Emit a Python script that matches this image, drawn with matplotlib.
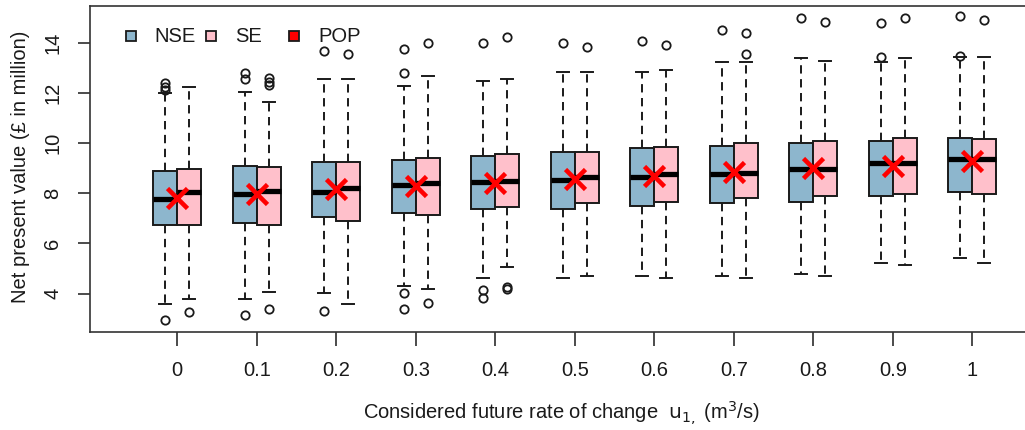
import matplotlib
matplotlib.use("Agg")
import matplotlib.pyplot as plt

plt.rcParams['font.family'] = ['Liberation Sans Narrow', 'Liberation Sans', 'DejaVu Sans']
plt.rcParams['mathtext.fontset'] = 'custom'
plt.rcParams['mathtext.rm'] = 'Liberation Sans Narrow'
plt.rcParams['mathtext.it'] = 'Liberation Sans Narrow:italic'
plt.rcParams['lines.scale_dashes'] = False

# rate of change u1 (m3/s)
rates = ["0", "0.1", "0.2", "0.3", "0.4", "0.5", "0.6", "0.7", "0.8", "0.9", "1"]

# NSE boxplot summaries (NPV, million GBP)
nse_lo = [3.58, 3.78, 4.02, 4.32, 4.64, 4.64, 4.71, 4.71, 4.78, 5.24, 5.41]
nse_q1 = [6.74, 6.83, 7.04, 7.20, 7.36, 7.36, 7.51, 7.60, 7.67, 7.89, 8.04]
nse_med = [7.76, 7.97, 8.06, 8.32, 8.45, 8.53, 8.66, 8.76, 8.97, 9.20, 9.35]
nse_q3 = [8.89, 9.10, 9.26, 9.33, 9.49, 9.63, 9.79, 9.88, 10.02, 10.10, 10.19]
nse_hi = [11.98, 12.02, 12.54, 12.29, 12.47, 12.84, 12.84, 13.22, 13.38, 13.22, 13.44]
nse_out = [[12.1, 12.25, 12.4, 2.95], [12.55, 12.8, 3.14], [13.68, 3.32],
           [12.78, 13.75, 4.02, 3.39], [13.98, 4.15, 3.84], [13.98], [14.06],
           [14.51], [14.97], [13.42, 14.78], [13.47, 15.06]]

# SE boxplot summaries
se_lo = [3.79, 4.08, 3.58, 4.18, 5.08, 4.71, 4.64, 4.64, 4.71, 5.14, 5.24]
se_q1 = [6.74, 6.74, 6.91, 7.14, 7.44, 7.60, 7.67, 7.80, 7.89, 7.96, 7.97]
se_med = [8.04, 8.10, 8.20, 8.42, 8.50, 8.64, 8.76, 8.82, 8.97, 9.20, 9.35]
se_q3 = [8.96, 9.04, 9.26, 9.42, 9.57, 9.63, 9.86, 10.02, 10.10, 10.19, 10.15]
se_hi = [12.22, 11.65, 12.54, 12.67, 12.54, 12.84, 12.91, 13.22, 13.28, 13.38, 13.44]
se_out = [[3.26], [12.3, 12.45, 12.6, 3.40], [13.55], [13.98, 3.64],
          [14.22, 4.25, 4.18], [13.84], [13.91], [13.55, 14.37], [14.81],
          [14.97], [14.90]]

# POP
pop = [7.82, 7.96, 8.16, 8.29, 8.42, 8.57, 8.70, 8.84, 9.00, 9.10, 9.29]


def stats(lo, q1, med, q3, hi, out):
    return [dict(whislo=a, q1=b, med=c, q3=d, whishi=e, fliers=f)
            for a, b, c, d, e, f in zip(lo, q1, med, q3, hi, out)]


fig = plt.figure(figsize=(10.25, 4.3), dpi=100)
ax = fig.add_axes([89.5 / 1025, 98.3 / 430, 940.5 / 1025, 325.7 / 430])

x = list(range(len(rates)))
w = 0.3
common = dict(widths=w, capwidths=w * 0.5, patch_artist=True, manage_ticks=False,
              boxprops=dict(edgecolor='#1a1a1a', linewidth=1.4),
              medianprops=dict(color='black', linewidth=3.8, solid_capstyle='butt'),
              whiskerprops=dict(color='#1a1a1a', linewidth=1.4, linestyle=(0, (6, 4))),
              capprops=dict(color='#1a1a1a', linewidth=1.4),
              flierprops=dict(marker='o', markersize=6, markerfacecolor='none',
                              markeredgecolor='#1a1a1a', markeredgewidth=1.3))

b1 = ax.bxp(stats(nse_lo, nse_q1, nse_med, nse_q3, nse_hi, nse_out),
            positions=[i - w / 2 for i in x], **common)
b2 = ax.bxp(stats(se_lo, se_q1, se_med, se_q3, se_hi, se_out),
            positions=[i + w / 2 for i in x], **common)
for p in b1['boxes']:
    p.set_facecolor('#8DB6CD')
for p in b2['boxes']:
    p.set_facecolor('#FFC0CB')

ax.plot(x, pop, linestyle='none', marker='x', color='red', markersize=14,
        markeredgewidth=3.3, zorder=5)

ax.set_xlim(-1.104, 10.726)
ax.set_ylim(2.486, 15.46)
ax.set_xticks(x)
ax.set_xticklabels(rates)
ax.set_yticks([4, 6, 8, 10, 12, 14])
ax.tick_params(axis='x', length=10, width=1.1, pad=11, labelsize=14.5, colors='#1a1a1a')
ax.tick_params(axis='y', length=8.5, width=1.1, pad=11, labelsize=14.5, colors='#1a1a1a',
               labelrotation=90)
for t in ax.get_yticklabels():
    t.set_verticalalignment('center')
for s in ax.spines.values():
    s.set_linewidth(1.2)
    s.set_color('#333333')

# legend row inside the top-left corner
items = [('NSE', '#8DB6CD', 0.0441, 0.0686), ('SE', '#FFC0CB', 0.1292, 0.1547),
         ('POP', 'red', 0.2174, 0.2430)]
for name, col, xs, xt in items:
    ax.plot([xs], [0.908], marker='s', markersize=7.5, markerfacecolor=col,
            markeredgecolor='#1a1a1a', markeredgewidth=1.3, linestyle='none',
            transform=ax.transAxes)
    ax.text(xt, 0.905, name, transform=ax.transAxes, ha='left', va='center',
            fontsize=14.5, color='#1a1a1a')

fig.text(21 / 1025, 1 - 166.5 / 430, 'Net present value (£ in million)', rotation=90,
         ha='center', va='center', fontsize=14.5, color='#1a1a1a')
fig.text(561 / 1025, 1 - 413 / 430,
         r'Considered future rate of change  $\mathrm{u}_{1,}$ (m$^{3}$/s)',
         ha='center', va='center', fontsize=14.5, color='#1a1a1a')

fig.savefig('out.png', dpi=100)
